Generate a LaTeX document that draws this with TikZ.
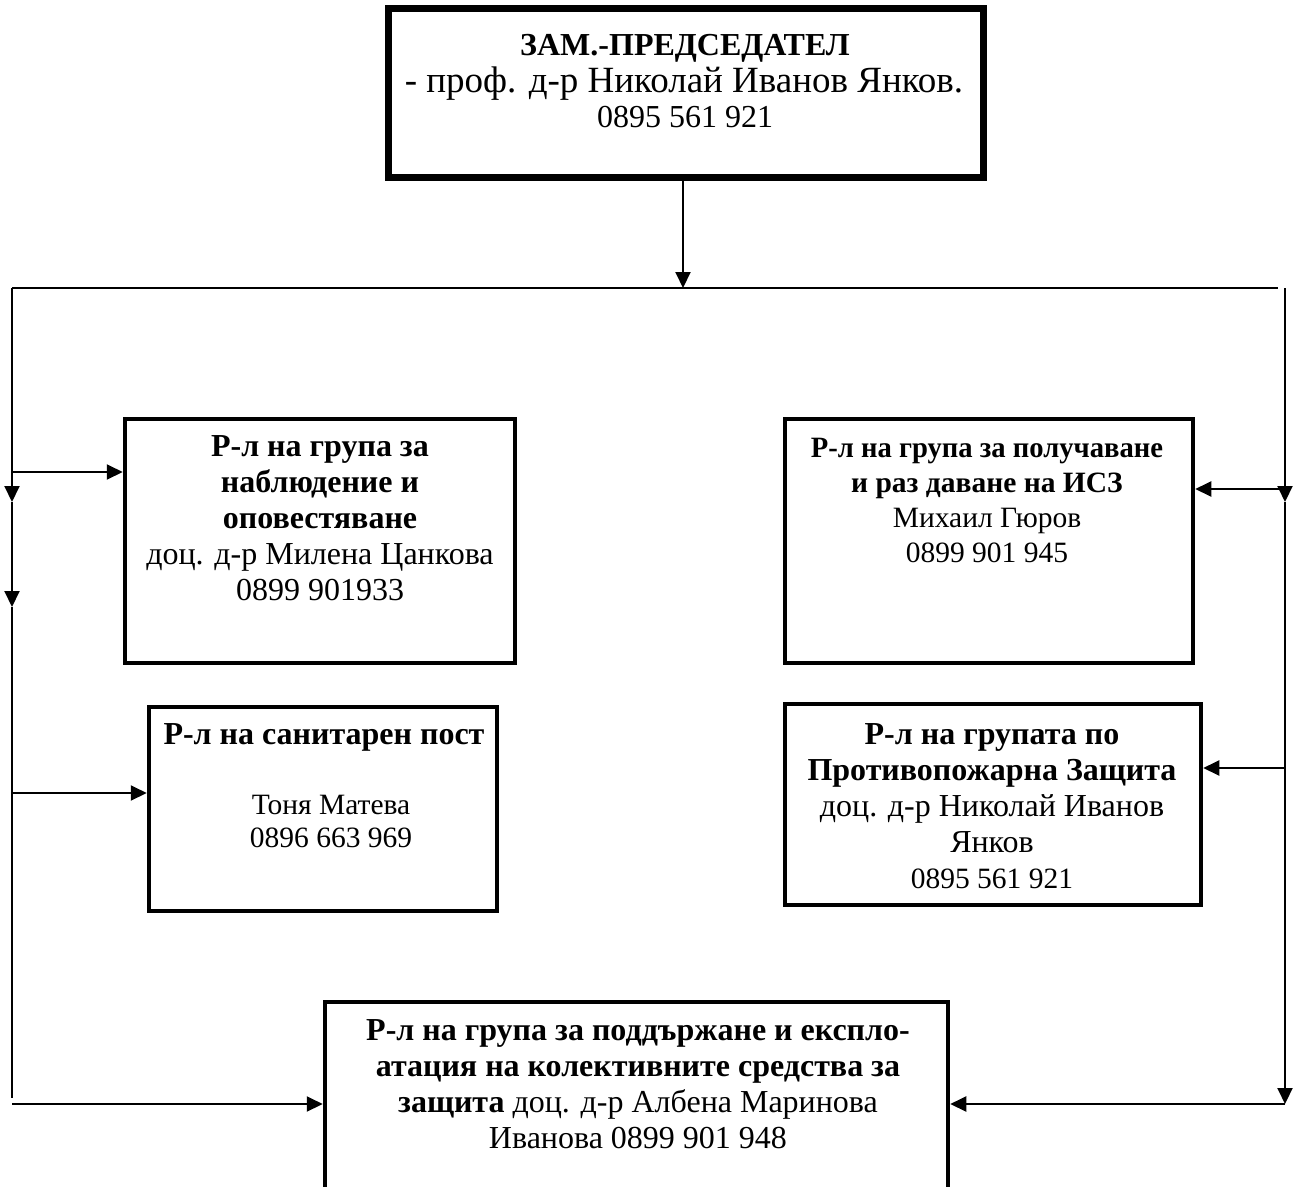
\documentclass[tikz,border=0pt]{standalone}
\usepackage{fontspec}
\setmainfont{Liberation Serif}
\usetikzlibrary{arrows.meta,fit}
\begin{document}
\begin{tikzpicture}[x=1pt,y=-1pt,
  box/.style={draw, line width=4.5pt, inner sep=0pt},
  topbox/.style={draw, line width=7pt, inner sep=0pt},
  txt/.style={align=center, inner sep=0pt, anchor=north, font=\fontsize{32}{36}\selectfont},
  txtsm/.style={align=center, inner sep=0pt, anchor=north, font=\fontsize{29.5}{34}\selectfont},
  lin/.style={inner sep=0pt, anchor=base},
  conn/.style={line width=2pt},
  arr/.style={line width=2pt, -{Triangle[length=16pt,width=15pt]}}]
\useasboundingbox (0,0) rectangle (1293,1186);
\fill[white] (0,0) rectangle (1293,1186);

% boxes
\node[topbox, fit={(388,8) (983,177)}] (top) {};
\node[box, fit={(125,419) (515,663)}] (b1) {};
\node[box, fit={(149,707) (497,911)}] (b2) {};
\node[box, fit={(785,419) (1193,663)}] (b3) {};
\node[box, fit={(785,704) (1201,905)}] (b4) {};
\node[box, fit={(325,1002) (948,1220)}] (b5) {};

% texts
\node[lin, font=\fontsize{32}{36}\selectfont\bfseries] (t0a) at (685,55) {ЗАМ.-ПРЕДСЕДАТЕЛ};
\node[lin, font=\fontsize{37}{40}\selectfont] (t0b) at (684,92) {- проф. д-р Николай Иванов Янков.};
\node[lin, font=\fontsize{32}{36}\selectfont] (t0c) at (685,127) {0895 561 921};
\node[txt] (t1) at (320,435) {\textbf{Р-л на група за}\\\textbf{наблюдение и}\\\textbf{оповестяване}\\доц. д-р Милена Цанкова\\0899 901933};
\node[txt] (t2) at (324,723) {\textbf{Р-л на санитарен пост}};
\node[txtsm, font=\fontsize{29.5}{33}\selectfont] (t2b) at (331,795) {Тоня Матева\\0896 663 969};
\node[txtsm, font=\fontsize{29.5}{35}\selectfont] (t3) at (987,438) {\scalebox{0.97}[1]{\textbf{Р-л на група за получаване}}\\\textbf{и раз даване на ИСЗ}\\Михаил Гюров\\0899 901 945};
\node[txt] (t4) at (992,723) {\textbf{Р-л на групата по}\\\textbf{Противопожарна Защита}\\доц. д-р Николай Иванов\\Янков\\{\fontsize{29.5}{36}\selectfont 0895 561 921}};
\node[txt] (t5) at (638,1019) {\textbf{Р-л на група за поддържане и експло-}\\\textbf{атация на колективните средства за}\\\textbf{защита} доц. д-р Албена Маринова\\Иванова\hspace{8pt}0899 901 948};

% coordinates
\coordinate (hm) at (683,288);
\coordinate (hl) at (12,288);
\coordinate (hr) at (1278,288);
\coordinate (rt) at (1285,288);
\coordinate (la1) at (12,502);
\coordinate (la2) at (12,607);
\coordinate (lend) at (12,1098);
\coordinate (l1) at (12,472);
\coordinate (l2) at (12,793);
\coordinate (l5) at (12,1104);
\coordinate (ra1) at (1285,502);
\coordinate (r3) at (1285,489);
\coordinate (r4) at (1285,768);
\coordinate (r5) at (1285,1104);

% connectors
\draw[arr] (top.south -| hm) -- (hm);
\draw[conn] (hl) -- (hr);
\draw[arr] (hl) -- (la1);
\draw[arr] (la1) -- (la2);
\draw[conn] (la2) -- (lend);
\draw[arr] (l1) -- (l1 -| b1.west);
\draw[arr] (l2) -- (l2 -| b2.west);
\draw[arr] (l5) -- (l5 -| b5.west);
\draw[arr] (rt) -- (ra1);
\draw[arr] (ra1) -- (r5);
\draw[arr] (r3) -- (r3 -| b3.east);
\draw[arr] (r4) -- (r4 -| b4.east);
\draw[arr] (r5) -- (r5 -| b5.east);
\end{tikzpicture}
\end{document}
